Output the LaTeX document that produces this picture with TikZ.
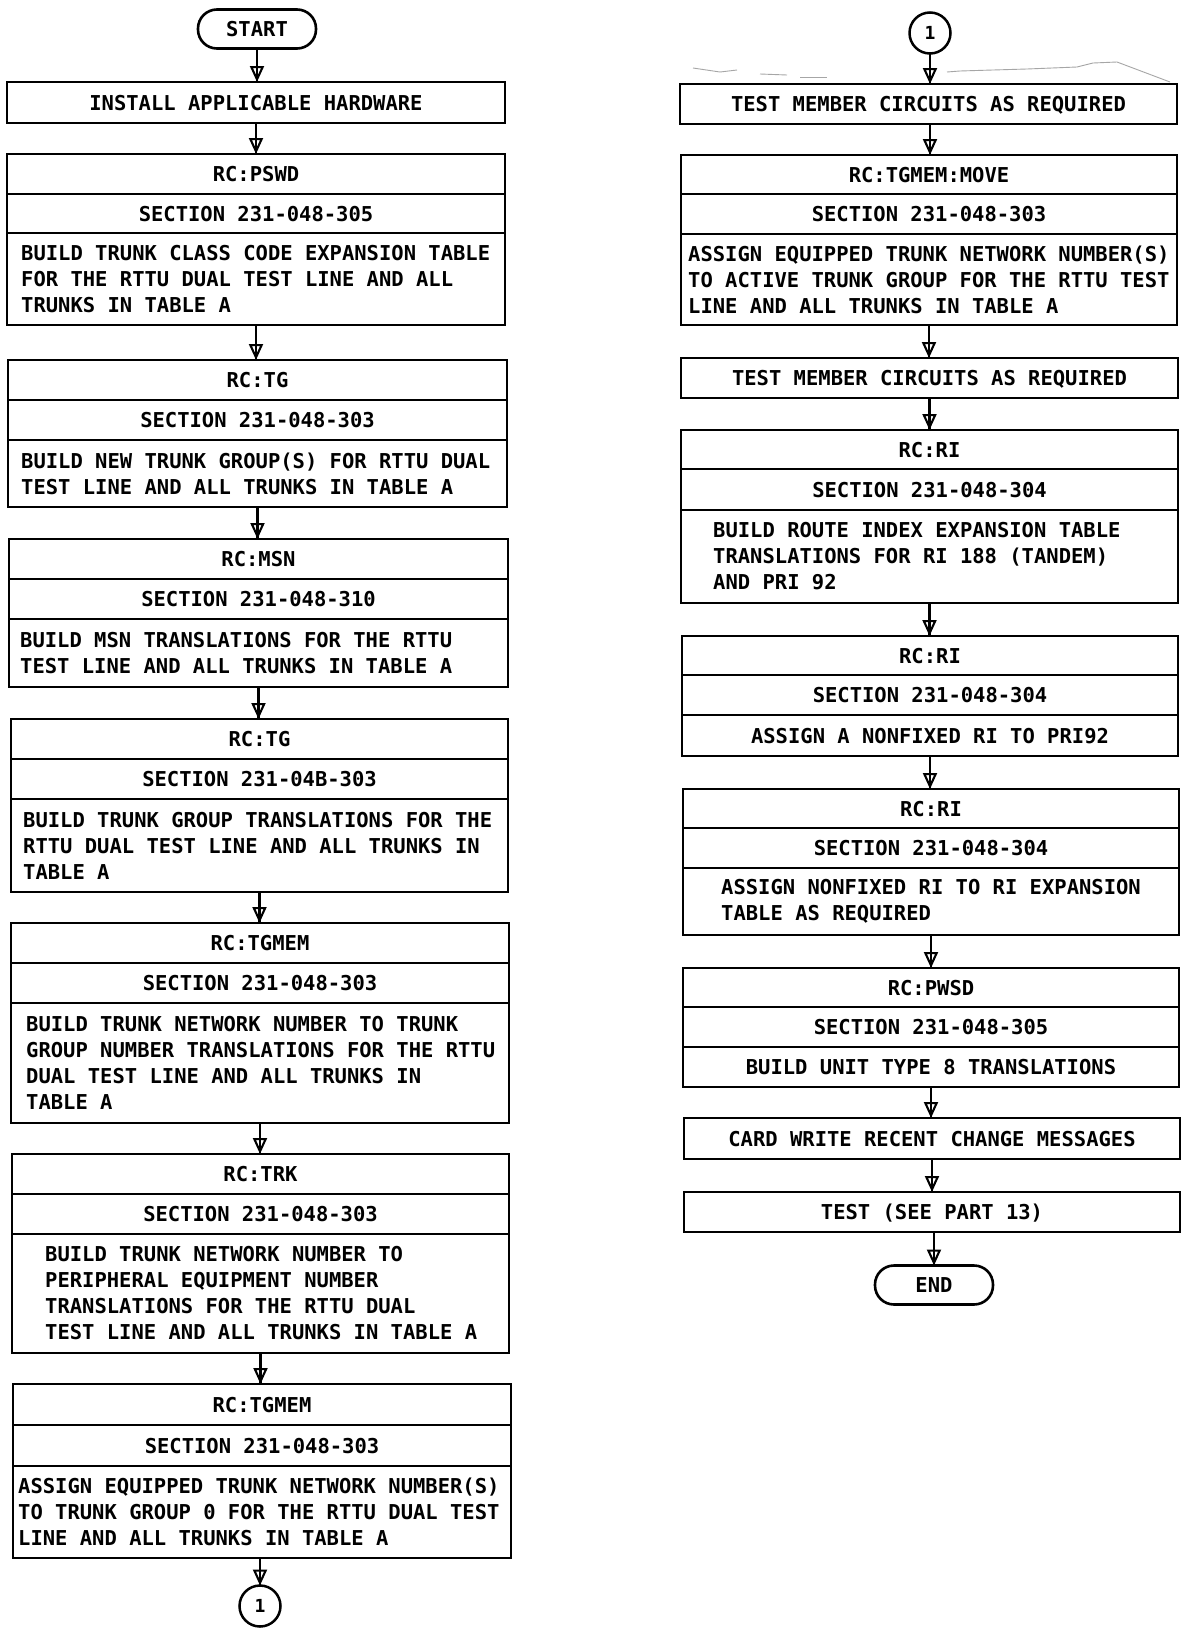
\documentclass[tikz,border=0pt]{standalone}
\usepackage{fontspec}
\newfontfamily\monofam{DejaVu Sans Mono}
\usetikzlibrary{arrows.meta,fit,decorations.markings}
\newcommand{\ftitle}{\monofam\bfseries\fontsize{20.5}{26}\selectfont}
\newcommand{\fcirc}{\monofam\bfseries\fontsize{18}{20}\selectfont}
% #1 name, #2 left, #3 right, #4 top, #5 divider1, #6 divider2, #7 bottom
\newcommand{\tribox}[7]{%
  \node[cellbox, fit={(#2,#4)(#3,#7)}] (#1) {};
  \draw[boxline] (#2,#5) -- (#3,#5);
  \draw[boxline] (#2,#6) -- (#3,#6);
  \coordinate (#1-a) at ({(#2+#3)/2},{(#4+#5)/2});
  \coordinate (#1-b) at ({(#2+#3)/2},{(#5+#6)/2});
  \coordinate (#1-c) at ({(#2+#3)/2},{(#6+#7)/2});
  \coordinate (#1-cw) at (#2,{(#6+#7)/2});
}
% #1 name, #2 left, #3 top, #4 right, #5 bottom, #6 text
\newcommand{\onebox}[6]{%
  \node[cellbox, fit={(#2,#3)(#4,#5)}] (#1) {};
  \node[ttl] (#1-t) at (#1.center) {#6};
}
\begin{document}
\begin{tikzpicture}[x=1pt,y=-1pt,
  cellbox/.style={draw, line width=2.7pt, inner sep=0pt, outer sep=0pt},
  boxline/.style={line width=2.7pt},
  ttl/.style={font=\ftitle, inner sep=0pt, text height=15pt, text depth=0pt},
  bodytxt/.style={font=\ftitle, align=left, inner sep=0pt, anchor=west},
  term/.style={draw, line width=2.6pt, rounded corners=19pt, minimum width=118pt,
    minimum height=39pt, inner sep=0pt, outer sep=0pt, font=\ftitle,
    text height=15pt, text depth=0pt},
  connc/.style={draw, circle, line width=2.5pt, minimum size=41pt, inner sep=0pt,
    outer sep=0pt, font=\fcirc},
  flow/.style={line width=2.6pt, postaction={decorate},
    decoration={markings, mark=at position 1 with {\arrow[line width=2.1pt]{Triangle[open,width=14pt,length=16pt]}}}},
  tear/.style={gray!70, line width=0.9pt}
]
\fill[white] (0,0) rectangle (1187,1628);
\useasboundingbox (0,0) rectangle (1187,1628);

% ---------------- left column ----------------
\node[term] (start) at (257,29) {START};
\onebox{inst}{7}{82}{505}{123}{INSTALL APPLICABLE HARDWARE}

\tribox{pswd}{7}{505}{154}{194}{233}{325}
\node[ttl] (pswd-t1) at (pswd-a) {RC:PSWD};
\node[ttl] (pswd-t2) at (pswd-b) {SECTION 231-048-305};
\node[bodytxt] (pswd-t3) at ([xshift=14pt]pswd-cw) {BUILD TRUNK CLASS CODE EXPANSION TABLE\\FOR THE RTTU DUAL TEST LINE AND ALL\\TRUNKS IN TABLE A};

\tribox{tg}{8}{507}{360}{400}{440}{507}
\node[ttl] (tg-t1) at (tg-a) {RC:TG};
\node[ttl] (tg-t2) at (tg-b) {SECTION 231-048-303};
\node[bodytxt] (tg-t3) at ([xshift=13pt]tg-cw) {BUILD NEW TRUNK GROUP(S) FOR RTTU DUAL\\TEST LINE AND ALL TRUNKS IN TABLE A};

\tribox{msn}{9}{508}{539}{579}{619}{687}
\node[ttl] (msn-t1) at (msn-a) {RC:MSN};
\node[ttl] (msn-t2) at (msn-b) {SECTION 231-048-310};
\node[bodytxt] (msn-t3) at ([xshift=11pt]msn-cw) {BUILD MSN TRANSLATIONS FOR THE RTTU\\TEST LINE AND ALL TRUNKS IN TABLE A};

\tribox{tgb}{11}{508}{719}{759}{799}{892}
\node[ttl] (tgb-t1) at (tgb-a) {RC:TG};
\node[ttl] (tgb-t2) at (tgb-b) {SECTION 231-04B-303};
\node[bodytxt] (tgb-t3) at ([xshift=12pt]tgb-cw) {BUILD TRUNK GROUP TRANSLATIONS FOR THE\\RTTU DUAL TEST LINE AND ALL TRUNKS IN\\TABLE A};

\tribox{tgm}{11}{509}{923}{963}{1003}{1123}
\node[ttl] (tgm-t1) at (tgm-a) {RC:TGMEM};
\node[ttl] (tgm-t2) at (tgm-b) {SECTION 231-048-303};
\node[bodytxt] (tgm-t3) at ([xshift=15pt]tgm-cw) {BUILD TRUNK NETWORK NUMBER TO TRUNK\\GROUP NUMBER TRANSLATIONS FOR THE RTTU\\DUAL TEST LINE AND ALL TRUNKS IN\\TABLE A};

\tribox{trk}{12}{509}{1154}{1194}{1234}{1353}
\node[ttl] (trk-t1) at (trk-a) {RC:TRK};
\node[ttl] (trk-t2) at (trk-b) {SECTION 231-048-303};
\node[bodytxt] (trk-t3) at ([xshift=33pt]trk-cw) {BUILD TRUNK NETWORK NUMBER TO\\PERIPHERAL EQUIPMENT NUMBER\\TRANSLATIONS FOR THE RTTU DUAL\\TEST LINE AND ALL TRUNKS IN TABLE A};

\tribox{tgn}{13}{511}{1384}{1425}{1466}{1558}
\node[ttl] (tgn-t1) at (tgn-a) {RC:TGMEM};
\node[ttl] (tgn-t2) at (tgn-b) {SECTION 231-048-303};
\node[bodytxt] (tgn-t3) at ([xshift=5pt]tgn-cw) {ASSIGN EQUIPPED TRUNK NETWORK NUMBER(S)\\TO TRUNK GROUP 0 FOR THE RTTU DUAL TEST\\LINE AND ALL TRUNKS IN TABLE A};

\node[connc] (cA) at (260,1606) {1};

% ---------------- right column ----------------
\node[connc] (cB) at (930,33) {1};
\onebox{tma}{680}{84}{1177}{124}{TEST MEMBER CIRCUITS AS REQUIRED}

\tribox{mov}{681}{1177}{155}{194}{234}{325}
\node[ttl] (mov-t1) at (mov-a) {RC:TGMEM:MOVE};
\node[ttl] (mov-t2) at (mov-b) {SECTION 231-048-303};
\node[bodytxt] (mov-t3) at ([xshift=7pt]mov-cw) {ASSIGN EQUIPPED TRUNK NETWORK NUMBER(S)\\TO ACTIVE TRUNK GROUP FOR THE RTTU TEST\\LINE AND ALL TRUNKS IN TABLE A};

\onebox{tmb}{681}{358}{1178}{398}{TEST MEMBER CIRCUITS AS REQUIRED}

\tribox{ria}{681}{1178}{430}{469}{510}{603}
\node[ttl] (ria-t1) at (ria-a) {RC:RI};
\node[ttl] (ria-t2) at (ria-b) {SECTION 231-048-304};
\node[bodytxt] (ria-t3) at ([xshift=32pt]ria-cw) {BUILD ROUTE INDEX EXPANSION TABLE\\TRANSLATIONS FOR RI 188 (TANDEM)\\AND PRI 92};

\tribox{rib}{682}{1178}{636}{675}{715}{756}
\node[ttl] (rib-t1) at (rib-a) {RC:RI};
\node[ttl] (rib-t2) at (rib-b) {SECTION 231-048-304};
\node[ttl] (rib-t3) at (rib-c) {ASSIGN A NONFIXED RI TO PRI92};

\tribox{ric}{683}{1179}{789}{828}{868}{935}
\node[ttl] (ric-t1) at (ric-a) {RC:RI};
\node[ttl] (ric-t2) at (ric-b) {SECTION 231-048-304};
\node[bodytxt] (ric-t3) at ([xshift=38pt]ric-cw) {ASSIGN NONFIXED RI TO RI EXPANSION\\TABLE AS REQUIRED};

\tribox{pwd}{683}{1179}{968}{1007}{1047}{1087}
\node[ttl] (pwd-t1) at (pwd-a) {RC:PWSD};
\node[ttl] (pwd-t2) at (pwd-b) {SECTION 231-048-305};
\node[ttl] (pwd-t3) at (pwd-c) {BUILD UNIT TYPE 8 TRANSLATIONS};

\onebox{card}{684}{1118}{1180}{1159}{CARD WRITE RECENT CHANGE MESSAGES}
\onebox{tst}{684}{1192}{1180}{1232}{TEST (SEE PART 13)}
\node[term] (end) at (934,1285) {END};

% ---------------- connectors ----------------
\draw[flow] (start.south) -- (start.south |- inst.north);
\draw[flow] (inst.south) -- (inst.south |- pswd.north);
\draw[flow] (pswd.south) -- (pswd.south |- tg.north);
\draw[flow] (tg.south) -- (tg.south |- msn.north);
\draw[flow] (msn.south) -- (msn.south |- tgb.north);
\draw[flow] (tgb.south) -- (tgb.south |- tgm.north);
\draw[flow] (tgm.south) -- (tgm.south |- trk.north);
\draw[flow] (trk.south) -- (trk.south |- tgn.north);
\draw[flow] (tgn.south -| cA.north) -- (cA.north);

\draw[flow] (cB.south) -- (cB.south |- tma.north);
\draw[flow] (tma.south -| cB.south) -- (cB.south |- mov.north);
\draw[flow] (mov.south) -- (mov.south |- tmb.north);
\draw[flow] (tmb.south) -- (tmb.south |- ria.north);
\draw[flow] (ria.south) -- (ria.south |- rib.north);
\draw[flow] (rib.south) -- (rib.south |- ric.north);
\draw[flow] (ric.south) -- (ric.south |- pwd.north);
\draw[flow] (pwd.south) -- (pwd.south |- card.north);
\draw[flow] (card.south) -- (card.south |- tst.north);
\draw[flow] (tst.south -| end.north) -- (end.north);

% torn edge of the scan above the right column
\draw[tear] (693,68) -- (720,72) -- (737,70);
\draw[tear] (760,74) -- (787,75);
\draw[tear] (800,77) -- (827,77);
\draw[tear] (947,72) -- (960,71) -- (993,70) -- (1027,69) -- (1077,67) -- (1093,63) -- (1117,62) -- (1170,82);
\end{tikzpicture}
\end{document}
